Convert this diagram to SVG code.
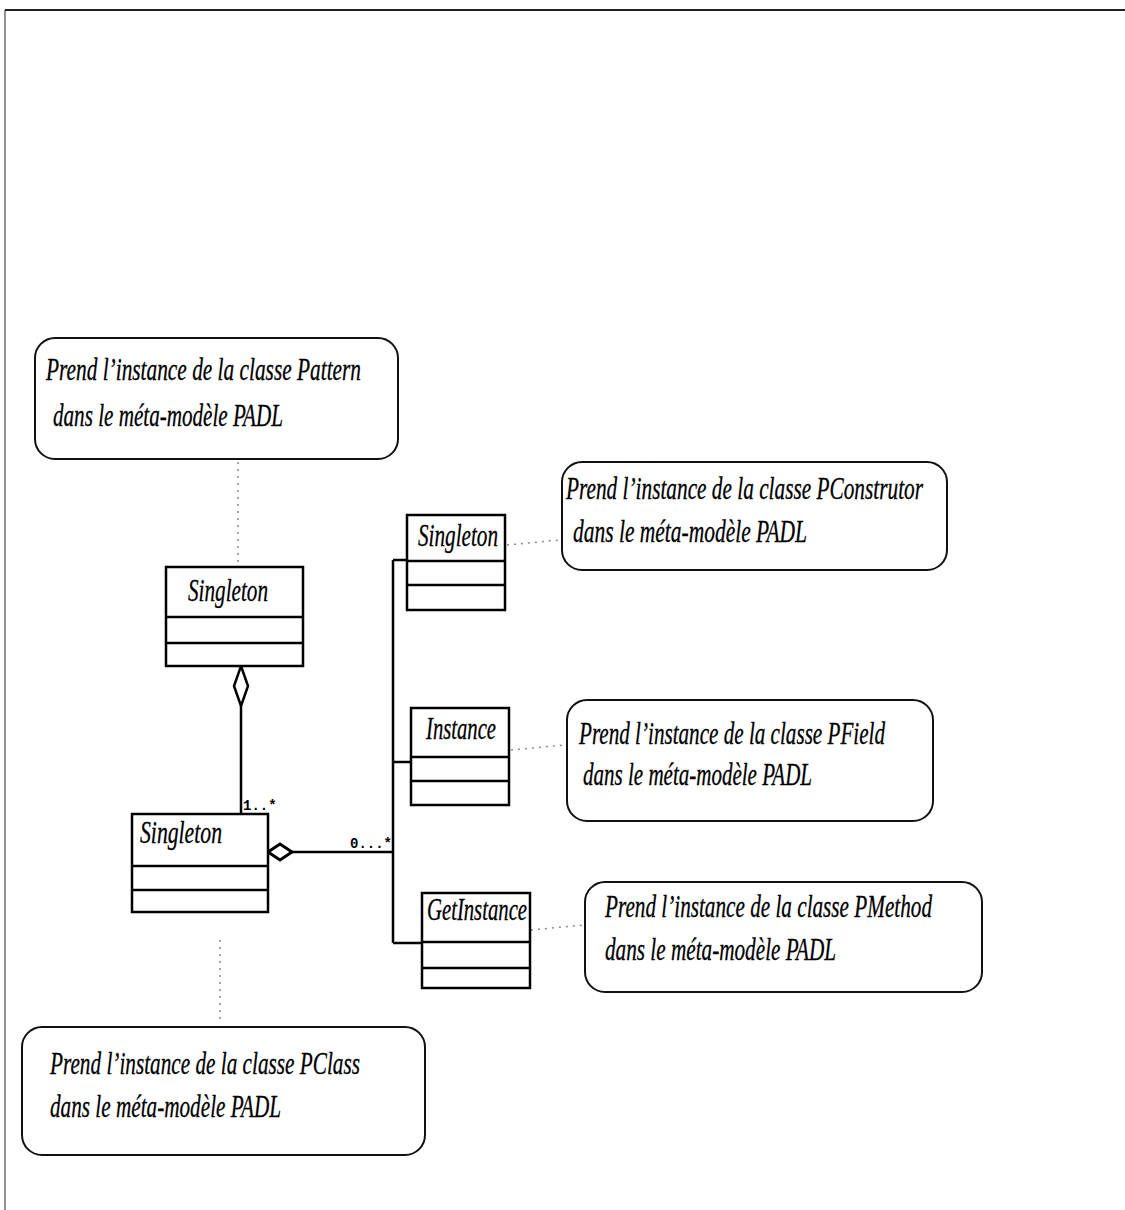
<svg xmlns="http://www.w3.org/2000/svg" width="1125" height="1210" viewBox="0 0 1125 1210">
  <style>
    .frame { fill: none; stroke: #222; }
    .cls { fill: #fff; stroke: #000; stroke-width: 2.5; }
    .div { stroke: #000; stroke-width: 2.5; }
    .note { fill: #fff; stroke: #111; stroke-width: 2; }
    .name { font-family: "Liberation Serif", serif; font-style: italic; font-size: 31px; fill: #000; stroke: #000; stroke-width: 0.3; }
    .txt { font-family: "Liberation Serif", serif; font-style: italic; font-size: 31px; fill: #000; stroke: #000; stroke-width: 0.3; }
    .mult { font-family: "Liberation Mono", monospace; font-size: 14px; font-weight: bold; fill: #000; }
    .link { fill: none; stroke: #000; stroke-width: 2.5; }
    .dot { fill: none; stroke: #8a8a8a; stroke-width: 1.5; stroke-dasharray: 2 5; }
  </style>

  <!-- page frame (top and left rules only) -->
  <path class="frame" d="M5 10 H1125" stroke-width="2"/>
  <path class="frame" d="M5 10 V1210" stroke-width="1"/>

  <!-- connectors -->
  <g id="connectors">
    <!-- aggregation: Pattern Singleton <> class Singleton -->
    <path class="link" d="M241 706 V814" stroke-width="2"/>
    <polygon points="241,666 248,686 241,706 234,686" fill="#fff" stroke="#000" stroke-width="2.5"/>
    <text class="mult" x="243" y="810">1..*</text>

    <!-- aggregation: class Singleton <> members -->
    <polygon points="268,852 280,844 292,852 280,860" fill="#fff" stroke="#000" stroke-width="3"/>
    <path class="link" d="M292 852 H393" stroke-width="3"/>
    <text class="mult" x="350" y="848">0...*</text>
    <path class="link" d="M393 560 V943" stroke-width="2.5"/>
    <path class="link" d="M393 560 H407"/>
    <path class="link" d="M393 762 H411"/>
    <path class="link" d="M393 943 H422"/>

    <!-- note anchors -->
    <path class="dot" d="M238 462 V565"/>
    <path class="dot" d="M220 940 V1022"/>
    <path class="dot" d="M507 545 L560 540"/>
    <path class="dot" d="M511 750 L565 745"/>
    <path class="dot" d="M531 930 L584 925"/>
  </g>

  <!-- note: Pattern -->
  <g id="note-pattern">
    <rect class="note" x="35" y="338" width="363" height="121" rx="20"/>
    <text class="txt" x="46" y="380" textLength="315" lengthAdjust="spacingAndGlyphs">Prend l’instance de la classe Pattern</text>
    <text class="txt" x="53" y="426" textLength="230" lengthAdjust="spacingAndGlyphs">dans le méta-modèle PADL</text>
  </g>

  <!-- note: PConstrutor -->
  <g id="note-pconstrutor">
    <rect class="note" x="562" y="462" width="385" height="108" rx="20"/>
    <text class="txt" x="566" y="499" textLength="357" lengthAdjust="spacingAndGlyphs">Prend l’instance de la classe  PConstrutor</text>
    <text class="txt" x="573" y="542" textLength="234" lengthAdjust="spacingAndGlyphs">dans le méta-modèle PADL</text>
  </g>

  <!-- note: PField -->
  <g id="note-pfield">
    <rect class="note" x="567" y="700" width="366" height="121" rx="20"/>
    <text class="txt" x="579" y="744" textLength="306" lengthAdjust="spacingAndGlyphs">Prend l’instance de la classe PField</text>
    <text class="txt" x="583" y="785" textLength="229" lengthAdjust="spacingAndGlyphs">dans le méta-modèle PADL</text>
  </g>

  <!-- note: PMethod -->
  <g id="note-pmethod">
    <rect class="note" x="585" y="882" width="397" height="110" rx="20"/>
    <text class="txt" x="605" y="917" textLength="327" lengthAdjust="spacingAndGlyphs">Prend l’instance de la classe PMethod</text>
    <text class="txt" x="605" y="960" textLength="231" lengthAdjust="spacingAndGlyphs">dans le méta-modèle PADL</text>
  </g>

  <!-- note: PClass -->
  <g id="note-pclass">
    <rect class="note" x="22" y="1027" width="403" height="128" rx="20"/>
    <text class="txt" x="50" y="1074" textLength="310" lengthAdjust="spacingAndGlyphs">Prend l’instance de la classe PClass</text>
    <text class="txt" x="50" y="1117" textLength="231" lengthAdjust="spacingAndGlyphs">dans le méta-modèle PADL</text>
  </g>

  <!-- class: Singleton (pattern) -->
  <g id="class-pattern-singleton">
    <rect class="cls" x="166" y="567" width="137" height="99"/>
    <line class="div" x1="166" y1="617" x2="303" y2="617"/>
    <line class="div" x1="166" y1="643" x2="303" y2="643"/>
    <text class="name" x="188" y="601" textLength="80" lengthAdjust="spacingAndGlyphs">Singleton</text>
  </g>

  <!-- class: Singleton -->
  <g id="class-singleton">
    <rect class="cls" x="132" y="814" width="136" height="98"/>
    <line class="div" x1="132" y1="866" x2="268" y2="866"/>
    <line class="div" x1="132" y1="890" x2="268" y2="890"/>
    <text class="name" x="140" y="843" textLength="82" lengthAdjust="spacingAndGlyphs">Singleton</text>
  </g>

  <!-- member: Singleton constructor -->
  <g id="member-singleton">
    <rect class="cls" x="407" y="515" width="98" height="95"/>
    <line class="div" x1="407" y1="561" x2="505" y2="561"/>
    <line class="div" x1="407" y1="585" x2="505" y2="585"/>
    <text class="name" x="418" y="546" textLength="80" lengthAdjust="spacingAndGlyphs">Singleton</text>
  </g>

  <!-- member: Instance field -->
  <g id="member-instance">
    <rect class="cls" x="411" y="708" width="98" height="97"/>
    <line class="div" x1="411" y1="757" x2="509" y2="757"/>
    <line class="div" x1="411" y1="781" x2="509" y2="781"/>
    <text class="name" x="426" y="739" textLength="70" lengthAdjust="spacingAndGlyphs">Instance</text>
  </g>

  <!-- member: GetInstance method -->
  <g id="member-getinstance">
    <rect class="cls" x="422" y="893" width="108" height="95"/>
    <line class="div" x1="422" y1="942" x2="530" y2="942"/>
    <line class="div" x1="422" y1="968" x2="530" y2="968"/>
    <text class="name" x="427" y="920" textLength="100" lengthAdjust="spacingAndGlyphs">GetInstance</text>
  </g>
</svg>
